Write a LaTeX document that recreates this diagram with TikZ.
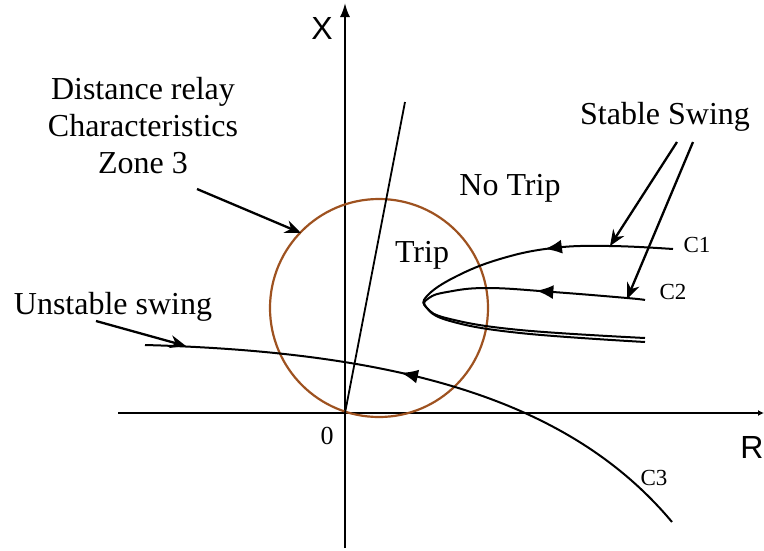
\documentclass[tikz,border=0pt]{standalone}
\usepackage{fontspec}
\setmainfont{Liberation Serif}
\setsansfont{Liberation Sans}
\usetikzlibrary{arrows.meta,positioning,decorations.markings}
\definecolor{zonebrown}{RGB}{158,82,32}

\begin{document}
\begin{tikzpicture}[x=1pt,y=-1pt,
  txt/.style={font=\fontsize{32}{37}\selectfont, align=center, inner sep=0pt},
  axtxt/.style={font=\sffamily\fontsize{32}{37}\selectfont, inner sep=0pt},
  ctxt/.style={font=\fontsize{23}{26}\selectfont, inner sep=0pt},
  pointer/.style={-{Stealth[length=16pt,width=13pt]}, line width=2.3pt},
  swing/.style={line width=2pt},
  dirmark/.style={postaction={decorate}, decoration={markings,
    mark=at position #1 with {\arrow{Latex[length=17pt,width=14pt]}}}}]
  \useasboundingbox (0,0) rectangle (764,550);

  % 軸
  \coordinate (O) at (345,413);
  \coordinate (xbot) at (345,548);
  \coordinate (xtop) at (345,3);
  \coordinate (rleft) at (118,413);
  \coordinate (rright) at (764,413);
  \draw[line width=2pt, -{Latex[length=14pt,width=10pt]}] (xbot) -- (xtop);
  \draw[line width=2pt, -{Latex[length=6pt,width=6pt]}] (rleft) -- (rright);
  \node[axtxt] (xlab) at (322,28) {X};
  \node[axtxt] (rlab) at (752,447) {R};
  \node[txt, font=\fontsize{26}{30}\selectfont] (zero) at (327,436) {0};

  % 第3ゾーン特性
  \draw[zonebrown, line width=2.2pt] (379,308) circle[radius=109pt];
  \coordinate (ltop) at (405,102);
  \draw[line width=1.8pt] (O) -- (ltop);
  \node[txt] (notrip) at (510,188) {No Trip};
  \node[txt] (trip) at (422,255) {Trip};

  % 安定動揺 C1, C2
  \draw[swing, dirmark=0.26] plot[smooth, tension=0.7] coordinates {
    (673,249) (610,246) (553,248) (500,259) (455,277) (427,296) (427,308)
    (450,319) (520,330) (645,338)};
  \draw[swing, dirmark=0.24] plot[smooth, tension=0.7] coordinates {
    (645,300) (627,298) (553,292) (487,288) (447,292) (429,298) (426,307)
    (450,321) (520,333) (645,342)};
  \node[ctxt] (cone) at (697,245) {C1};
  \node[ctxt] (ctwo) at (673,292) {C2};

  % 不安定動揺 C3
  \draw[swing, dirmark=0.55] (672,522) .. controls (570,400) and (400,352) .. (145,345);
  \node[ctxt] (cthree) at (654,478) {C3};

  % 説明の矢印
  \node[txt] (relay) at (143,126) {Distance relay\\Characteristics\\Zone 3};
  \node[txt] (unstable) at (113,307) {Unstable swing};
  \node[txt] (stable) at (665,117) {Stable Swing};
  \coordinate (relayfoot) at (197,189);
  \coordinate (oncircle) at (301,233);
  \coordinate (unsfoot) at (96,321);
  \coordinate (onc3) at (186,346);
  \coordinate (stfootA) at (677,142);
  \coordinate (stfootB) at (693,142);
  \coordinate (onc1) at (610,246);
  \coordinate (onc2) at (627,299);
  \draw[pointer] (relayfoot) -- (oncircle);
  \draw[pointer] (unsfoot) -- (onc3);
  \draw[pointer] (stfootA) -- (onc1);
  \draw[pointer] (stfootB) -- (onc2);
\end{tikzpicture}
\end{document}
